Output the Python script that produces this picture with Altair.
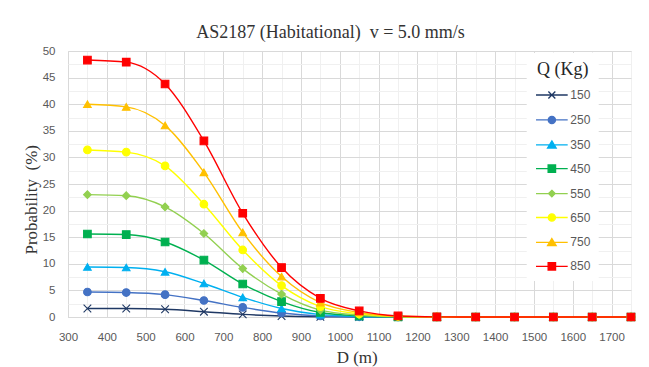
import altair as alt
import pandas as pd

# ---- data ----
distances = [350, 450, 550, 650, 750, 850, 950, 1050, 1150, 1250, 1350, 1450, 1550, 1650, 1750]
charges = ["150", "250", "350", "450", "550", "650", "750", "850"]
p150 = [1.6, 1.6, 1.45, 1.0, 0.5, 0.18, 0.05, 0.01, 0.0, 0.0, 0.0, 0.0, 0.0, 0.0, 0.0]
p250 = [4.7, 4.6, 4.2, 3.1, 1.8, 0.75, 0.2, 0.04, 0.01, 0.0, 0.0, 0.0, 0.0, 0.0, 0.0]
p350 = [9.4, 9.3, 8.5, 6.3, 3.7, 1.6, 0.45, 0.1, 0.02, 0.0, 0.0, 0.0, 0.0, 0.0, 0.0]
p450 = [15.6, 15.5, 14.1, 10.7, 6.2, 2.9, 0.85, 0.22, 0.03, 0.0, 0.0, 0.0, 0.0, 0.0, 0.0]
p550 = [23.0, 22.8, 20.7, 15.7, 9.1, 4.3, 1.3, 0.38, 0.05, 0.01, 0.0, 0.0, 0.0, 0.0, 0.0]
p650 = [31.4, 31.0, 28.4, 21.2, 12.6, 5.9, 1.95, 0.6, 0.09, 0.02, 0.0, 0.0, 0.0, 0.0, 0.0]
p750 = [40.0, 39.5, 36.0, 27.2, 15.9, 7.6, 2.7, 0.85, 0.14, 0.03, 0.0, 0.0, 0.0, 0.0, 0.0]
p850 = [48.3, 47.9, 43.8, 33.1, 19.5, 9.3, 3.5, 1.15, 0.2, 0.03, 0.0, 0.0, 0.0, 0.0, 0.0]
series = [p150, p250, p350, p450, p550, p650, p750, p850]

x_ticks = list(range(300, 1751, 50))
y_ticks = [i * 2.5 for i in range(21)]

colors = ["#1f3864", "#4472c4", "#00b0f0", "#00b050", "#92d050", "#ffff00", "#ffc000", "#ff0000"]

rows = []
for q, vals in zip(charges, series):
    for d, p in zip(distances, vals):
        rows.append({"D": d, "P": p, "Q": q})
df = pd.DataFrame(rows)

# marker shapes for the plot
X_PATH = "M-1,-1L1,1M1,-1L-1,1"
plot_shapes = [X_PATH, "circle", "triangle-up", "square", "diamond", "circle", "triangle-up", "square"]

# legend shapes: a line segment through the marker
L = 2.64
seg = f"M-{L},0H{L}"
lg_x = seg + "M-0.58,-0.58L0.58,0.58M0.58,-0.58L-0.58,0.58"
lg_circle = seg + "M-0.6,0A0.6,0.6,0,1,0,0.6,0A0.6,0.6,0,1,0,-0.6,0Z"
lg_tri = seg + "M0,-0.65L0.72,0.55H-0.72Z"
lg_square = seg + "M-0.62,-0.62H0.62V0.62H-0.62Z"
lg_diamond = seg + "M0,-0.55L0.55,0L0,0.55L-0.55,0Z"
legend_shapes = [lg_x, lg_circle, lg_tri, lg_square, lg_diamond, lg_circle, lg_tri, lg_square]

SERIF = "Liberation Serif"
SANS = "Liberation Sans"

x_enc = alt.X(
    "D:Q",
    scale=alt.Scale(domain=[300, 1750], nice=False, zero=False),
    axis=alt.Axis(
        values=x_ticks,
        format="d",
        labelExpr="datum.value % 100 === 0 ? datum.label : ''",
        title="D (m)",
        titleFont=SERIF,
        titleFontSize=17,
        titleFontWeight="normal",
        titleColor="#333333",
        titleX=288.7,
        titleY=45,
        titleAlign="center",
        titleBaseline="alphabetic",
        labelFont=SANS,
        labelFontSize=11.5,
        labelColor="#595959",
        labelPadding=14,
        ticks=False,
        tickSize=0,
        domainColor="#d9d9d9",
        gridColor=alt.condition("datum.value % 100 === 0", alt.value("#d9d9d9"), alt.value("#f0f0f0")),
        labelFlush=False,
        labelOverlap=False,
    ),
)
y_enc = alt.Y(
    "P:Q",
    scale=alt.Scale(domain=[0, 50], nice=False),
    axis=alt.Axis(
        values=y_ticks,
        labelExpr="datum.value % 5 === 0 ? datum.label : ''",
        title="Probability\u00a0 (%)",
        titleFont=SERIF,
        titleFontSize=17,
        titleFontWeight="normal",
        titleColor="#333333",
        titleX=-31.6,
        titleY=148.3,
        titleAlign="center",
        titleBaseline="alphabetic",
        labelFont=SANS,
        labelFontSize=11.5,
        labelColor="#595959",
        labelPadding=13,
        ticks=False,
        tickSize=0,
        domain=False,
        gridColor=alt.condition("datum.value % 5 === 0", alt.value("#d9d9d9"), alt.value("#f0f0f0")),
        labelFlush=False,
        labelOverlap=False,
    ),
)

color_scale = alt.Scale(domain=charges, range=colors)

base = alt.Chart(df)

lines = base.mark_line(interpolate="monotone", strokeWidth=1.4).encode(
    x=x_enc,
    y=y_enc,
    color=alt.Color("Q:N", scale=color_scale, legend=None),
    detail="Q:N",
)

points = base.mark_point(filled=True, size=58, strokeWidth=1.1, opacity=1).encode(
    x=x_enc,
    y=y_enc,
    color=alt.Color("Q:N", scale=color_scale, legend=None),
    stroke=alt.Stroke("Q:N", scale=color_scale, legend=None),
    shape=alt.Shape("Q:N", scale=alt.Scale(domain=charges, range=plot_shapes), legend=None),
)

leg = alt.Legend(
    title="Q (Kg)",
    orient="none",
    legendX=458.7,
    legendY=2,
    fillColor="white",
    padding=8,
    titleFont=SERIF,
    titleFontSize=18,
    titleFontWeight="normal",
    titleColor="#262626",
    titleAnchor="middle",
    titlePadding=9,
    labelFont=SANS,
    labelFontSize=12,
    labelColor="#595959",
    symbolSize=144,
    symbolOffset=10.15,
    labelOffset=11.45,
    rowPadding=10.9,
    symbolStrokeWidth=1.3,
    symbolOpacity=1,
)

legend_layer = base.mark_point(filled=True, size=58, strokeWidth=1.3).encode(
    x=x_enc,
    y=y_enc,
    color=alt.Color("Q:N", scale=color_scale, legend=leg),
    stroke=alt.Stroke("Q:N", scale=color_scale, legend=leg),
    shape=alt.Shape("Q:N", scale=alt.Scale(domain=charges, range=legend_shapes), legend=leg),
).transform_filter("false")

chart = (
    alt.layer(lines, points, legend_layer)
    .resolve_scale(color="independent", stroke="independent", shape="independent")
    .properties(
        width=563,
        height=266,
        autosize=alt.AutoSizeParams(type="none"),
        padding={"left": 68, "top": 51, "right": 18, "bottom": 50},
        title=alt.TitleParams(
            "AS2187 (Habitational)\u00a0 v = 5.0 mm/s",
            font=SERIF,
            fontSize=18,
            fontWeight="normal",
            color="#333333",
            anchor="middle",
            dx=-19,
            dy=18,
            offset=7,
            baseline="alphabetic",
        ),
    )
    .configure_view(stroke=None)
    .configure(background="white")
)

chart.save("out.html", embed_options={"renderer": "svg", "actions": False})
